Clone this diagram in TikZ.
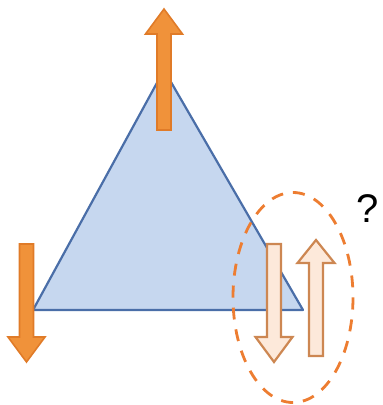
\documentclass[tikz,border=0pt]{standalone}
\usepackage{fontspec}
\setmainfont{Liberation Sans}
\usepackage{tikz}
\usetikzlibrary{positioning, calc}

\definecolor{triFill}{HTML}{C6D7EF}
\definecolor{triEdge}{HTML}{4A6EA8}
\definecolor{spinFill}{HTML}{F0923A}
\definecolor{spinEdge}{HTML}{E07B28}
\definecolor{paleFill}{HTML}{FDE9DA}
\definecolor{paleEdge}{HTML}{CD8752}
\definecolor{ringCol}{HTML}{ED7D31}

% block arrow: style, x, tail y, head base y, tip y
\newcommand{\blockarrow}[5]{%
  \draw[#1] (#2-7,#3) -- (#2-7,#4) -- (#2-18.5,#4) -- (#2,#5)
    -- (#2+18.5,#4) -- (#2+7,#4) -- (#2+7,#3) -- cycle;
}

\begin{document}
\begin{tikzpicture}[
  x=1pt, y=-1pt,
  tri/.style={fill=triFill, draw=triEdge, line width=2.2pt, line join=round},
  spin/.style={fill=spinFill, draw=spinEdge, line width=1.6pt, line join=miter},
  pale/.style={fill=paleFill, draw=paleEdge, line width=2.2pt, line join=miter},
  ring/.style={draw=ringCol, line width=2.8pt, dash pattern=on 12pt off 10pt},
]
  \useasboundingbox (0,0) rectangle (383,405);

  \coordinate (apex) at (164,70);
  \coordinate (left) at (33,310);
  \coordinate (right) at (303,310);
  \draw[tri] (apex) -- (left) -- (right) -- cycle;

  \blockarrow{spin}{164}{130}{34}{9}
  \blockarrow{spin}{26.5}{244}{337}{362}
  \blockarrow{pale}{274}{244}{337}{362}
  \blockarrow{pale}{316}{356}{263}{240}

  \draw[ring] (293,297.5) ellipse [x radius=60, y radius=105];

  \node[font=\fontsize{40}{40}\selectfont] (qmark) at (368,209) {?};
\end{tikzpicture}
\end{document}
